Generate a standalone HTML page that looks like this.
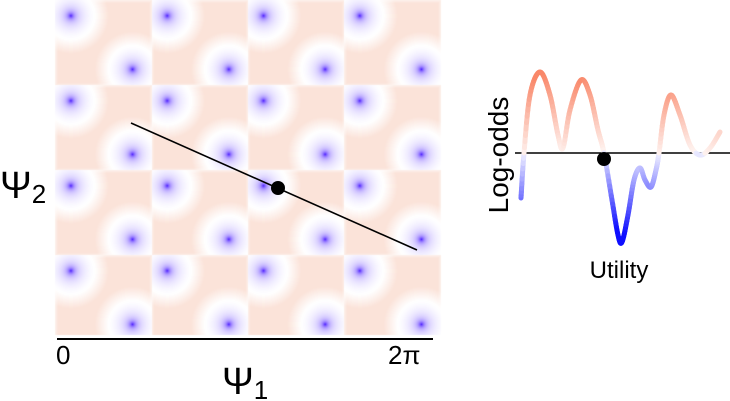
<!DOCTYPE html>
<html><head><meta charset="utf-8"><style>
body{margin:0;background:#fff;width:730px;height:401px;overflow:hidden;position:relative;font-family:"Liberation Sans",sans-serif}
canvas,svg{position:absolute;left:0;top:0}
</style></head><body>
<canvas id="hm" width="730" height="401"></canvas>
<svg id="sv" width="730" height="401">
<line x1="57" y1="339" x2="433" y2="339" stroke="#000" stroke-width="2"/>
<text x="56" y="364" font-size="26">0</text>
<text x="388" y="364" font-size="26">2π</text>
<text x="222" y="394" font-size="38">Ψ<tspan font-size="26" dy="5">1</tspan></text>
<text x="0" y="198" font-size="38">Ψ<tspan font-size="26" dy="5">2</tspan></text>
<line x1="131" y1="123" x2="417" y2="250" stroke="#000" stroke-width="1.6"/>
<circle cx="278" cy="188" r="7" fill="#000"/>
<line x1="515" y1="153" x2="730" y2="153" stroke="#000" stroke-width="1.6"/>
<g id="curve"></g>
<circle cx="604" cy="159" r="7" fill="#000"/>
<text transform="translate(508,155) rotate(-90)" text-anchor="middle" font-size="28">Log-odds</text>
<text x="619" y="278" text-anchor="middle" font-size="24">Utility</text>
</svg>
<script>
// heatmap tile grid
const cols=[0,1,2,3], rows=[0,1,2,3];
const spotsU=[0.16,0.80], spotsV=[0.18,0.81];
// curve data (utility x, log-odds y px)
const curveX=[521,524,530,540,550,558,563,570,581,590,598,604,612,618,622,628,634,640,645,651,656,659,664,671,680,690,700,710,720];
const curveY=[198,153,95,72,95,135,148,110,80,95,130,153,200,235,242,215,180,168,180,187,170,153,115,95,115,145,155,148,132];

const X0=55,Y0=0,TW=96.3,TH=85;
const c=document.getElementById('hm').getContext('2d');
const img=c.createImageData(730,401);
for(let y=0;y<335;y++)for(let x=X0;x<X0+TW*4;x++){
  const lx=(x-X0)%TW, ly=(y-Y0)%TH;
  let d=1e9;
  for(let k=0;k<2;k++)d=Math.min(d,Math.hypot(lx-spotsU[k]*TW,ly-spotsV[k]*TH));
  let r=255,g=255,b=255;
  const r0=24;
  if(d<r0){const t=Math.min(1,Math.pow(1-d/r0,1.5)*0.3+Math.exp(-d/3)*0.75);r=255-175*t;g=255-220*t;b=255;}
  else{let t=Math.min(1,(d-r0)/14);const e=Math.min(lx,TW-lx,ly,TH-ly);t*=Math.min(1,e/6+0.55);
    r=255-4*t;g=255-28*t;b=255-38*t;}
  const i=(y*730+x)*4;img.data[i]=r;img.data[i+1]=g;img.data[i+2]=b;img.data[i+3]=255;
}
c.putImageData(img,0,0);

const g=document.getElementById('curve');
function col(y){const v=(153-y);if(v>=0){const t=Math.min(1,0.1+v/85);return `rgb(${255-6*t},${255-120*t},${255-150*t})`;}
 const t=Math.min(1,0.08-v/85);return `rgb(${255-240*t},${255-240*t},255)`;}
// catmull-rom sampling
const pts=[];
for(let i=0;i<curveX.length-1;i++){
  const p0=i>0?i-1:i,p3=i+2<curveX.length?i+2:i+1;
  for(let s=0;s<10;s++){const t=s/10,t2=t*t,t3=t2*t;
    const f=(a)=>0.5*(2*a[i+0]+(-a[p0]+a[i+1])*t+(2*a[p0]-5*a[i]+4*a[i+1]-a[p3])*t2+(-a[p0]+3*a[i]-3*a[i+1]+a[p3])*t3);
    pts.push([f(curveX),f(curveY)]);}
}
pts.push([curveX[curveX.length-1],curveY[curveY.length-1]]);
for(let i=0;i<pts.length-1;i++){
  const l=document.createElementNS('http://www.w3.org/2000/svg','line');
  
  
  l.setAttribute('x1',pts[i][0]);l.setAttribute('y1',pts[i][1]);
  l.setAttribute('x2',pts[i+1][0]);l.setAttribute('y2',pts[i+1][1]);
  l.setAttribute('stroke',col((pts[i][1]+pts[i+1][1])/2));
  l.setAttribute('stroke-width','5');l.setAttribute('stroke-linecap','round');
  g.appendChild(l);
}
</script>
</body></html>
